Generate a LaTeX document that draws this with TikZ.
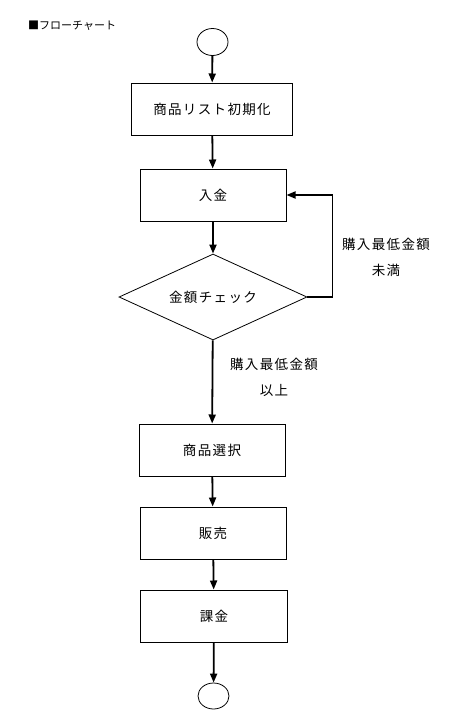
\documentclass[tikz,border=0pt]{standalone}
\usepackage{fontspec}
\newfontfamily\jpfont[LetterSpace=10]{Noto Sans CJK JP}
\newfontfamily\headfont{Noto Sans CJK JP}
\usetikzlibrary{shapes.geometric,arrows.meta}
\tikzset{%
  block/.style    = {draw, line width=1pt, rectangle, minimum height=52pt,
    minimum width=146pt, inner sep=0pt}, % Process
  decision/.style = {draw, line width=0.8pt, diamond, aspect=2.2,
    minimum width=188pt, minimum height=86pt, inner sep=0pt}, % Check
  terminal/.style = {draw, line width=0.8pt, ellipse, minimum width=31pt,
    minimum height=27pt, inner sep=0pt}, % Start / end
  note/.style     = {align=center} % Branch label
}

\begin{document}
\begin{tikzpicture}[x=1pt, y=-1pt, line width=1.8pt,
  >={Triangle[length=9pt,width=7pt]},
  every node/.append style={font=\jpfont\fontsize{13.5}{26}\selectfont}]
\useasboundingbox (0,0) rectangle (470,718);
\draw
    node at(24,26)[anchor=west,font=\headfont\fontsize{11}{13}\selectfont,name=title]{■フローチャート}
    node at(212.5,42)[terminal,name=start]{}

    node at(212,109)[block,minimum width=161pt,name=init]{商品リスト初期化}
    node at(213,195)[block,name=pay]{入金}
    node at(213,297)[decision,name=chk]{金額チェック}

    node at(386,257)[note,name=less]{購入最低金額\\未満}
    node at(274,377)[note,name=over]{購入最低金額\\以上}

    node at(212,450)[block,name=sel]{商品選択}
    node at(213,533)[block,name=sale]{販売}
    node at(214,616)[block,minimum width=147pt,name=bill]{課金}

    node at(213.5,696)[terminal,minimum height=26pt,name=stop]{}
;

    \draw[->](start) -- (init);
    \draw[->](init) -- (pay);
    \draw[->](pay) -- (chk);
    \draw[->](chk.east) -- ++(25,0) |- (pay);
    \draw[->](chk) -- (sel);
    \draw[->](sel) -- (sale);
    \draw[->](sale) -- (bill);
    \draw[->](bill) -- (stop);
\end{tikzpicture}
\end{document}
